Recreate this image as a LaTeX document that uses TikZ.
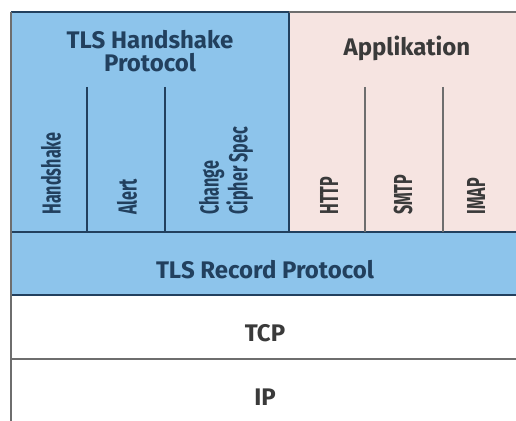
\documentclass[tikz,border=0pt]{standalone}
\usepackage{fontspec}
\setmainfont{Fira Sans}
\usepackage{graphicx}
\definecolor{tlsblue}{HTML}{8DC4EB}
\definecolor{apppink}{HTML}{F6E4E1}
\definecolor{navy}{HTML}{22405E}
\definecolor{darkgray}{HTML}{3A3A3A}
\definecolor{linegray}{HTML}{6E6E6E}
\newcommand{\cond}[1]{\scalebox{0.62}[1]{#1}}

\begin{document}
\begin{tikzpicture}[x=0.5pt, y=-0.5pt,
    title/.style={font=\fontsize{12}{11.5}\selectfont\bfseries, align=center},
    vert/.style={font=\fontsize{13}{12}\selectfont\bfseries, rotate=90, anchor=west, inner sep=0pt, align=left}]
    \useasboundingbox (0,0) rectangle (516,421);

    \fill[tlsblue] (11,12) rectangle (289,232);
    \fill[apppink] (289,12) rectangle (516,232);
    \fill[tlsblue] (11,232) rectangle (516,295);
    \fill[white] (11,295) rectangle (516,421);

    \draw[navy, line width=1pt] (11,12) -- (289,12) -- (289,232);
    \draw[linegray, line width=1pt] (289,12) -- (516,12);
    \draw[navy, line width=1pt] (11,232) -- (516,232);
    \draw[navy, line width=1pt] (11,295) -- (516,295);
    \draw[linegray, line width=1pt] (11,359) -- (516,359);
    \draw[linegray, line width=1pt] (11,12) -- (11,421);

    \node[title, text=navy] (hsp) at (150,51) {TLS Handshake\\Protocol};
    \node[title, text=darkgray] (app) at (407,48) {Applikation};

    \draw[navy, line width=1pt] (87,87) -- (87,232);
    \draw[navy, line width=1pt] (165,87) -- (165,232);
    \draw[linegray, line width=1pt] (365,87) -- (365,232);
    \draw[linegray, line width=1pt] (443,87) -- (443,232);

    \node[vert, text=navy] (handshake) at (51,215) {\cond{Handshake}};
    \node[vert, text=navy] (alert) at (127,215) {\cond{Alert}};
    \node[vert, text=navy] (ccs) at (226,215) {\cond{Change}\\\cond{Cipher Spec}};
    \node[vert, text=darkgray] (http) at (329,215) {\cond{HTTP}};
    \node[vert, text=darkgray] (smtp) at (403,215) {\cond{SMTP}};
    \node[vert, text=darkgray] (imap) at (476,215) {\cond{IMAP}};

    \node[title, text=navy] (record) at (265,270) {TLS Record Protocol};
    \node[title, text=darkgray] (tcp) at (265,333) {TCP};
    \node[title, text=darkgray] (ip) at (265,397) {IP};
\end{tikzpicture}
\end{document}
